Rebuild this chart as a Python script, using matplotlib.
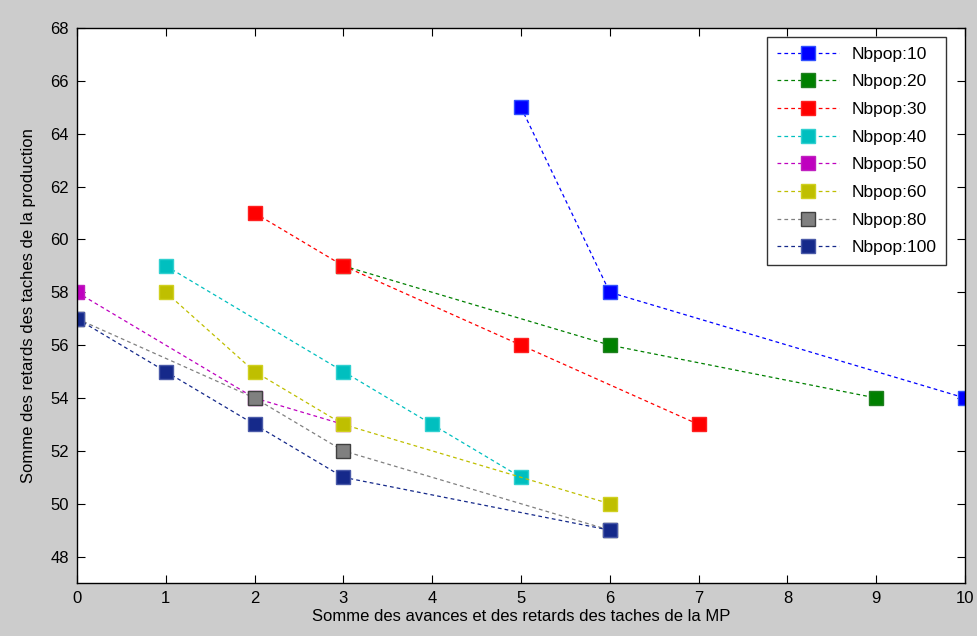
import matplotlib
matplotlib.use("Agg")
import matplotlib.pyplot as plt
from matplotlib import font_manager

# data
labels = ["Nbpop:10", "Nbpop:20", "Nbpop:30", "Nbpop:40",
          "Nbpop:50", "Nbpop:60", "Nbpop:80", "Nbpop:100"]
x10, y10 = [5, 6, 10], [65, 58, 54]
x20, y20 = [3, 6, 9], [59, 56, 54]
x30, y30 = [2, 3, 5, 7], [61, 59, 56, 53]
x40, y40 = [1, 3, 4, 5], [59, 55, 53, 51]
x50, y50 = [0, 2, 3], [58, 54, 53]
x60, y60 = [1, 2, 3, 6], [58, 55, 53, 50]
x80, y80 = [0, 2, 3, 6], [57, 54, 52, 49]
x100, y100 = [0, 1, 2, 3, 6], [57, 55, 53, 51, 49]

series = [(x10, y10), (x20, y20), (x30, y30), (x40, y40),
          (x50, y50), (x60, y60), (x80, y80), (x100, y100)]
colors = ["#0000ff", "#008000", "#ff0000", "#00bfbf",
          "#bf00bf", "#bfbf00", "#808080", "#15298a"]
edges = ["#3050ff", "#208020", "#ff2020", "#30d0d0",
         "#c020c0", "#d0d020", "#404040", "#4a5aa8"]

names = {f.name for f in font_manager.fontManager.ttflist}
fam = "Liberation Sans Narrow" if "Liberation Sans Narrow" in names else "Liberation Sans"
plt.rcParams["font.family"] = [fam, "DejaVu Sans"]

fig = plt.figure(figsize=(9.78, 6.36), dpi=100, facecolor="#cccccc")
ax = fig.add_axes([0.0787, 0.0833, 0.9080, 0.8727])

for (xs, ys), c, e, lab in zip(series, colors, edges, labels):
    ax.plot(xs, ys, linestyle=(0, (3, 2.5)), linewidth=0.9, color=c,
            marker="s", markersize=10, markerfacecolor=c,
            markeredgecolor=e, markeredgewidth=1.0, label=lab)

ax.set_xlim(0, 10)
ax.set_ylim(47, 68)
ax.set_xticks(range(0, 11))
ax.set_yticks(range(48, 69, 2))
ax.tick_params(direction="in", top=True, right=True, length=6,
               labelsize=12, pad=6)
for s in ax.spines.values():
    s.set_linewidth(1.0)

ax.set_xlabel("Somme des avances et des retards des taches de la MP",
              fontsize=12, labelpad=2)
ax.set_ylabel("Somme des retards des taches de la production",
              fontsize=12, labelpad=10)

leg = ax.legend(loc="upper right", bbox_to_anchor=(0.9786, 0.9838),
                borderaxespad=0, fontsize=12.5, handlelength=3.6,
                frameon=True, fancybox=False, edgecolor="black",
                borderpad=0.55, labelspacing=0.72, handletextpad=0.7)
leg.get_frame().set_linewidth(1.0)

fig.savefig("out.png", dpi=100, facecolor=fig.get_facecolor())
